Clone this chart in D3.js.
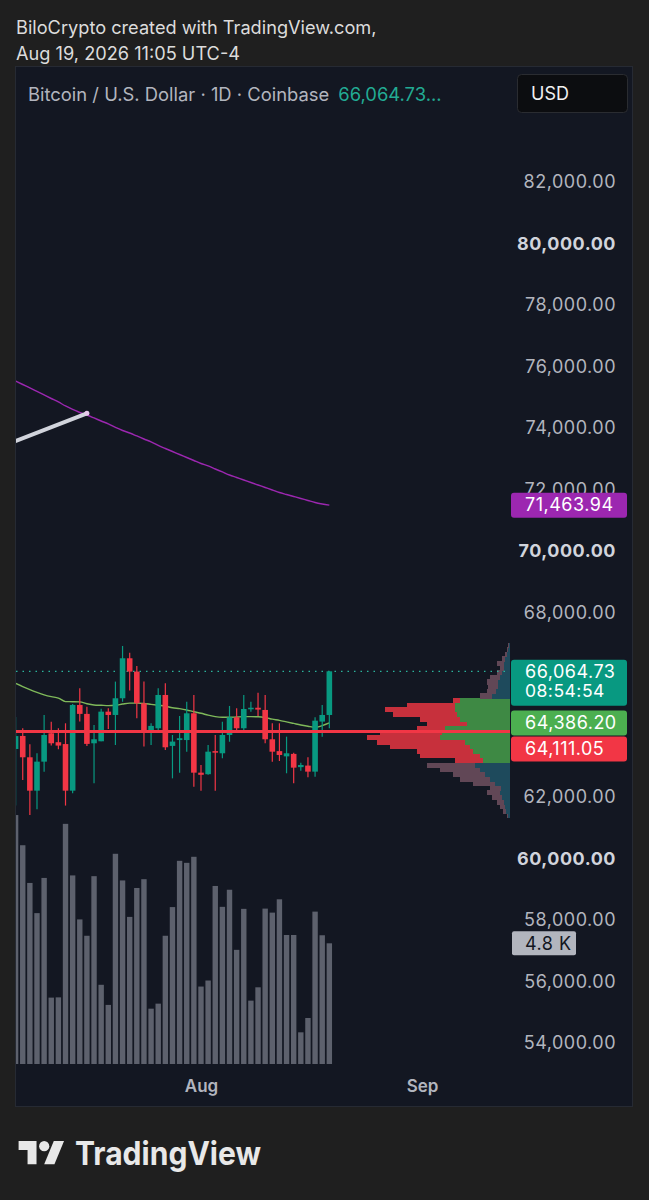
<!DOCTYPE html>
<html><head><meta charset="utf-8">
<script src="https://cdn.jsdelivr.net/npm/d3@7"></script>
<style>
html,body{margin:0;padding:0;background:#1f1f1f;}
svg{display:block;font-family:Inter,"Noto Sans",sans-serif;}
</style></head><body>
<svg id="c" width="649" height="1200"></svg>
<script>
// ---------- DATA ----------
const dates = ["2026-07-06","2026-07-07","2026-07-08","2026-07-09","2026-07-10","2026-07-11","2026-07-12","2026-07-13","2026-07-14","2026-07-15",
"2026-07-16","2026-07-17","2026-07-18","2026-07-19","2026-07-20","2026-07-21","2026-07-22","2026-07-23","2026-07-24","2026-07-25",
"2026-07-26","2026-07-27","2026-07-28","2026-07-29","2026-07-30","2026-07-31","2026-08-01","2026-08-02","2026-08-03","2026-08-04",
"2026-08-05","2026-08-06","2026-08-07","2026-08-08","2026-08-09","2026-08-10","2026-08-11","2026-08-12","2026-08-13","2026-08-14",
"2026-08-15","2026-08-16","2026-08-17","2026-08-18","2026-08-19"];
const opens  = [63540,63963,63270,62185,63128,64050,63760,63700,62185,64970,64680,63725,63790,64753,64645,65188,66488,66055,65025,64100,
                64213,65295,63640,63830,63830,64700,62770,62720,63470,63400,63995,64570,64213,64830,64880,64808,63855,63470,63300,63380,
                62950,63000,62803,64430,64645];
const highs  = [64580,64213,63693,63400,64645,64428,64213,64375,65000,65513,64915,64320,64850,64860,65730,66888,66670,66240,65730,64375,
                65513,65675,63995,64613,65075,65295,63020,63670,63995,64428,64938,64860,65295,65075,65370,65295,64375,64375,63940,63420,
                63095,63270,64570,64970,66065];
const lows   = [61700,62533,61395,61580,62803,63650,63530,61700,62100,64430,63640,62425,63790,64190,63670,65075,65440,64540,63620,63670,
                64120,63510,62585,62768,63452,62315,62185,62700,62185,63237,63775,64160,64160,64750,64613,63725,63128,63150,62750,62425,
                62835,62620,62640,63940,64210];
const closes = [63960,63270,62185,63128,63995,63725,63650,62185,64970,64680,63705,63855,64753,64645,65188,66488,66055,65025,64100,64290,
                65295,63595,63780,63890,64700,62770,62700,63452,63420,63995,64570,64213,64840,64880,64820,63855,63452,63345,63400,62933,
                63020,62803,64460,64645,66064.73];
const volumes = [9900,8700,7200,6000,7400,2640,2650,9550,7500,5750,5100,7470,3150,2350,8360,7300,5850,7000,7350,2200,
                 2400,5100,6240,8080,8000,8240,3080,3320,7080,6250,6930,4540,6170,2520,3050,6180,6020,6550,5130,5130,
                 1260,1830,6060,5120,4800];
const maShort = [65675,65570,65470,65380,65300,65240,65195,65080,65077,65070,65010,64970,64960,64950,64960,65000,65030,65030,65020,64990,
                 64960,64930,64880,64850,64808,64750,64700,64640,64590,64570,64570,64580,64590,64590,64585,64560,64510,64470,64420,64370,
                 64320,64280,64245,64300,64386.20];
const maLong  = [75500,75386,75273,75159,75045,74931,74818,74688,74574,74476,74395,74298,74200,74103,73989,73891,73810,73713,73615,73518,
                 73404,73306,73209,73111,73014,72916,72819,72738,72640,72543,72445,72364,72283,72201,72120,72039,71958,71876,71811,71746,
                 71681,71616,71551,71503,71463.94];
const trendDates = ["2026-07-06","2026-07-16"];
const trendPrices = [73550,74450];
const hLinePrice = 64111.05;
const lastPrice = 66064.73;
const countdown = "08:54:54";
// volume profile rows (lower bound price, up volume, down volume)
const profilePrices = [61300,61450,61600,61750,61900,62050,62200,62350,62500,62650,62800,62950,63100,63250,63400,63550,63700,63850,64000,
                       64150,64300,64450,64600,64750,64900,65050,65200,65350,65500,65650,65800,65950,66100,66250,66400,66550,66700,66850];
const profileUp   = [100,200,250,300,400,500,450,750,1000,1250,1500,1750,1350,1500,1850,2000,2250,3500,3400,
                     3250,2150,2500,2650,2750,2750,2500,900,700,600,600,500,400,300,300,250,150,100,50];
const profileDown = [50,150,250,350,500,650,550,1100,1500,1600,2000,2400,1400,3000,2800,4000,4400,3650,3100,
                     1400,2000,2000,3200,3500,2400,350,600,450,500,550,500,250,200,350,150,100,50,50];
const profileRow = 150;
const valueAreaLow = 63100, valueAreaHigh = 65200;
const priceTicks = [54000,56000,58000,60000,62000,64000,66000,68000,70000,72000,74000,76000,78000,80000,82000];
const boldTicks = [60000,70000,80000];
const monthTicks = ["2026-08-01","2026-09-01"];

// ---------- SETUP ----------
const parse = d3.utcParse("%Y-%m-%d");
const svg = d3.select("#c");
const fmt = d3.format(",.2f");
const UP = "#089981", DOWN = "#f23645";

// outer caption
svg.append("text").attr("x",16).attr("y",34).attr("fill","#dcdcdc").attr("font-size",18.2)
  .text("BiloCrypto created with TradingView.com,");
svg.append("text").attr("x",16).attr("y",60).attr("fill","#dcdcdc").attr("font-size",18.2)
  .text("Aug 19, 2026 11:05 UTC-4");

// panel
svg.append("rect").attr("x",15.5).attr("y",66.5).attr("width",617).attr("height",1040)
  .attr("fill","#131722").attr("stroke","#262a33");

// scales
const x = d3.scaleUtc().domain([parse("2026-07-06"), parse("2026-09-13")]).range([15.6, 507.6]);
const y = d3.scaleLinear().domain([54000,82000]).range([1042.5,181]);
const yV = d3.scaleLinear().domain([0,4800]).range([1064,943.3]);
const pW = d3.scaleLinear().domain([0,7150]).range([0,143]);
const axisX = 510;

const defs = svg.append("defs");
defs.append("clipPath").attr("id","plot").append("rect").attr("x",16).attr("y",67).attr("width",494).attr("height",1039);
const plot = svg.append("g").attr("clip-path","url(#plot)");

// volume bars
plot.append("g").selectAll("rect").data(volumes).join("rect")
  .attr("x",(d,i)=>x(parse(dates[i]))-2.7).attr("width",5.4)
  .attr("y",d=>yV(d)).attr("height",d=>yV(0)-yV(d)).attr("fill","#5d616d");

// volume profile
const prof = plot.append("g").attr("shape-rendering","crispEdges");
profilePrices.forEach((p,i)=>{
  const inVA = p >= valueAreaLow && p+profileRow <= valueAreaHigh;
  const yt = y(p+profileRow), yb = y(p);
  const u = pW(profileUp[i]), dn = pW(profileDown[i]);
  prof.append("rect").attr("x",axisX-u).attr("width",u).attr("y",yt).attr("height",yb-yt+0.6)
    .attr("fill", inVA ? "rgb(62,137,68)" : "#1e4a5c");
  prof.append("rect").attr("x",axisX-u-dn).attr("width",dn).attr("y",yt).attr("height",yb-yt+0.6)
    .attr("fill", inVA ? "rgb(199,48,60)" : "#614756");
});

// long MA (purple)
const line = d3.line().x((d,i)=>x(parse(dates[i]))).y(d=>y(d)).curve(d3.curveMonotoneX);
plot.append("path").attr("d",line(maLong)).attr("fill","none").attr("stroke","#9c27b0").attr("stroke-width",1.4);

// trend line
const tx0 = x(parse(trendDates[0])), tx1 = x(parse(trendDates[1]));
const tSlope = (trendPrices[1]-trendPrices[0])/(tx1-tx0);
plot.append("line").attr("x1",tx0-20).attr("y1",y(trendPrices[0]-tSlope*20))
  .attr("x2",tx1).attr("y2",y(trendPrices[1]))
  .attr("stroke","#d1d4dc").attr("stroke-width",4).attr("stroke-linecap","round");
plot.append("circle").attr("cx",tx1).attr("cy",y(trendPrices[1])).attr("r",2.5).attr("fill","#e8c8ec");

// last price dotted line
plot.append("line").attr("x1",16).attr("x2",axisX).attr("y1",y(lastPrice)).attr("y2",y(lastPrice))
  .attr("stroke","#2bb39c").attr("stroke-width",1.2).attr("stroke-dasharray","1.5,5");

// short MA (green)
plot.append("path").attr("d",line(maShort)).attr("fill","none").attr("stroke","#7fb95a").attr("stroke-width",1.4);

// candles
const cg = plot.append("g");
dates.forEach((dStr,i)=>{
  const cx = x(parse(dStr)), o=opens[i], c=closes[i], col = c>=o?UP:DOWN;
  cg.append("line").attr("x1",cx).attr("x2",cx).attr("y1",y(highs[i])).attr("y2",y(lows[i]))
    .attr("stroke",col).attr("stroke-width",1.2);
  const yt = y(Math.max(o,c)), yb = y(Math.min(o,c));
  cg.append("rect").attr("x",cx-2.8).attr("width",5.6).attr("y",yt).attr("height",Math.max(1.2,yb-yt)).attr("fill",col);
});

// horizontal red line
svg.append("line").attr("x1",16).attr("x2",axisX).attr("y1",y(hLinePrice)).attr("y2",y(hLinePrice))
  .attr("stroke",DOWN).attr("stroke-width",3);

// price label boxes (computed first so covered tick labels can be skipped)
const boxes = [];
const longLast = maLong[maLong.length-1], shortLast = maShort[maShort.length-1];
boxes.push({top:y(longLast)-12.5, h:25, fill:"#9c27b0", lines:[fmt(longLast)], col:"#ffffff"});
boxes.push({top:y(lastPrice)-11.5, h:46, fill:UP, lines:[fmt(lastPrice), countdown], col:"#ffffff"});
const maTop = y(shortLast)-12.5;
boxes.push({top:maTop, h:25, fill:"#4caf50", lines:[fmt(shortLast)], col:"#ffffff"});
boxes.push({top:Math.max(y(hLinePrice)-12.5, maTop+26), h:25, fill:DOWN, lines:[fmt(hLinePrice)], col:"#ffffff"});
const covered = v => boxes.some(b => y(v) > b.top+4 && y(v) < b.top+b.h+4);

// price axis
const ya = svg.append("g").attr("transform",`translate(616,0)`)
  .call(d3.axisRight(y).tickValues(priceTicks.filter(v=>!covered(v))).tickFormat(fmt).tickSize(0).tickPadding(0));
ya.select(".domain").remove();
ya.selectAll("text").attr("text-anchor","end").attr("dy","0.36em").attr("font-size",18)
  .attr("letter-spacing",0.5).attr("font-family","Inter,sans-serif")
  .attr("fill",d=>boldTicks.includes(d)?"#d1d4dc":"#b2b5be")
  .attr("font-weight",d=>boldTicks.includes(d)?700:400);

// time axis
const xa = svg.append("g").attr("transform","translate(0,1080)")
  .call(d3.axisBottom(x).tickValues(monthTicks.map(parse)).tickFormat(d3.utcFormat("%b")).tickSize(0).tickPadding(0));
xa.select(".domain").remove();
xa.selectAll("text").attr("dy","0.71em").attr("font-size",17).attr("font-weight",600)
  .attr("font-family","Inter,sans-serif").attr("fill","#b2b5be");

// draw boxes
boxes.forEach(b=>{
  svg.append("rect").attr("x",511).attr("y",b.top).attr("width",116).attr("height",b.h).attr("rx",3).attr("fill",b.fill);
  b.lines.forEach((t,k)=>{
    svg.append("text").attr("x",525).attr("y",b.top+18.5+k*19)
      .attr("font-size",k===0?18:17.5).attr("letter-spacing",0.5).attr("fill",b.col).text(t);
  });
});
// volume label
const vLast = volumes[volumes.length-1];
svg.append("rect").attr("x",512).attr("y",yV(vLast)-12).attr("width",64).attr("height",24).attr("rx",2).attr("fill","#b2b5be");
svg.append("text").attr("x",525).attr("y",yV(vLast)+6.5).attr("font-size",18).attr("letter-spacing",0.5)
  .attr("fill","#131722").text((vLast/1000).toFixed(1)+" K");

// header
svg.append("text").attr("x",28).attr("y",101).attr("font-size",18.4).attr("fill","#b2b5be")
  .text("Bitcoin / U.S. Dollar · 1D · Coinbase")
  .append("tspan").attr("dx",9).attr("fill","#22ab94").text(fmt(lastPrice)+"...");
svg.append("rect").attr("x",517.5).attr("y",74.5).attr("width",110).attr("height",38).attr("rx",4)
  .attr("fill","#0c0d10").attr("stroke","#2a2c31");
svg.append("text").attr("x",531).attr("y",100).attr("font-size",18).attr("fill","#f0f0f0").text("USD");

// logo
const lg = svg.append("g").attr("transform","translate(18.6,1136) scale(1.28)").attr("fill","#e8e8e8");
lg.append("path").attr("d","M14 22H7V11H0V4h14v18z");
lg.append("path").attr("d","M28 22h-8l7.5-18h8z");
lg.append("circle").attr("cx",20).attr("cy",8).attr("r",4);
svg.append("text").attr("x",75).attr("y",1165).attr("font-size",33).attr("font-weight",700)
  .attr("fill","#e8e8e8").attr("textLength",186).attr("lengthAdjust","spacingAndGlyphs")
  .text("TradingView");
</script>
</body></html>
